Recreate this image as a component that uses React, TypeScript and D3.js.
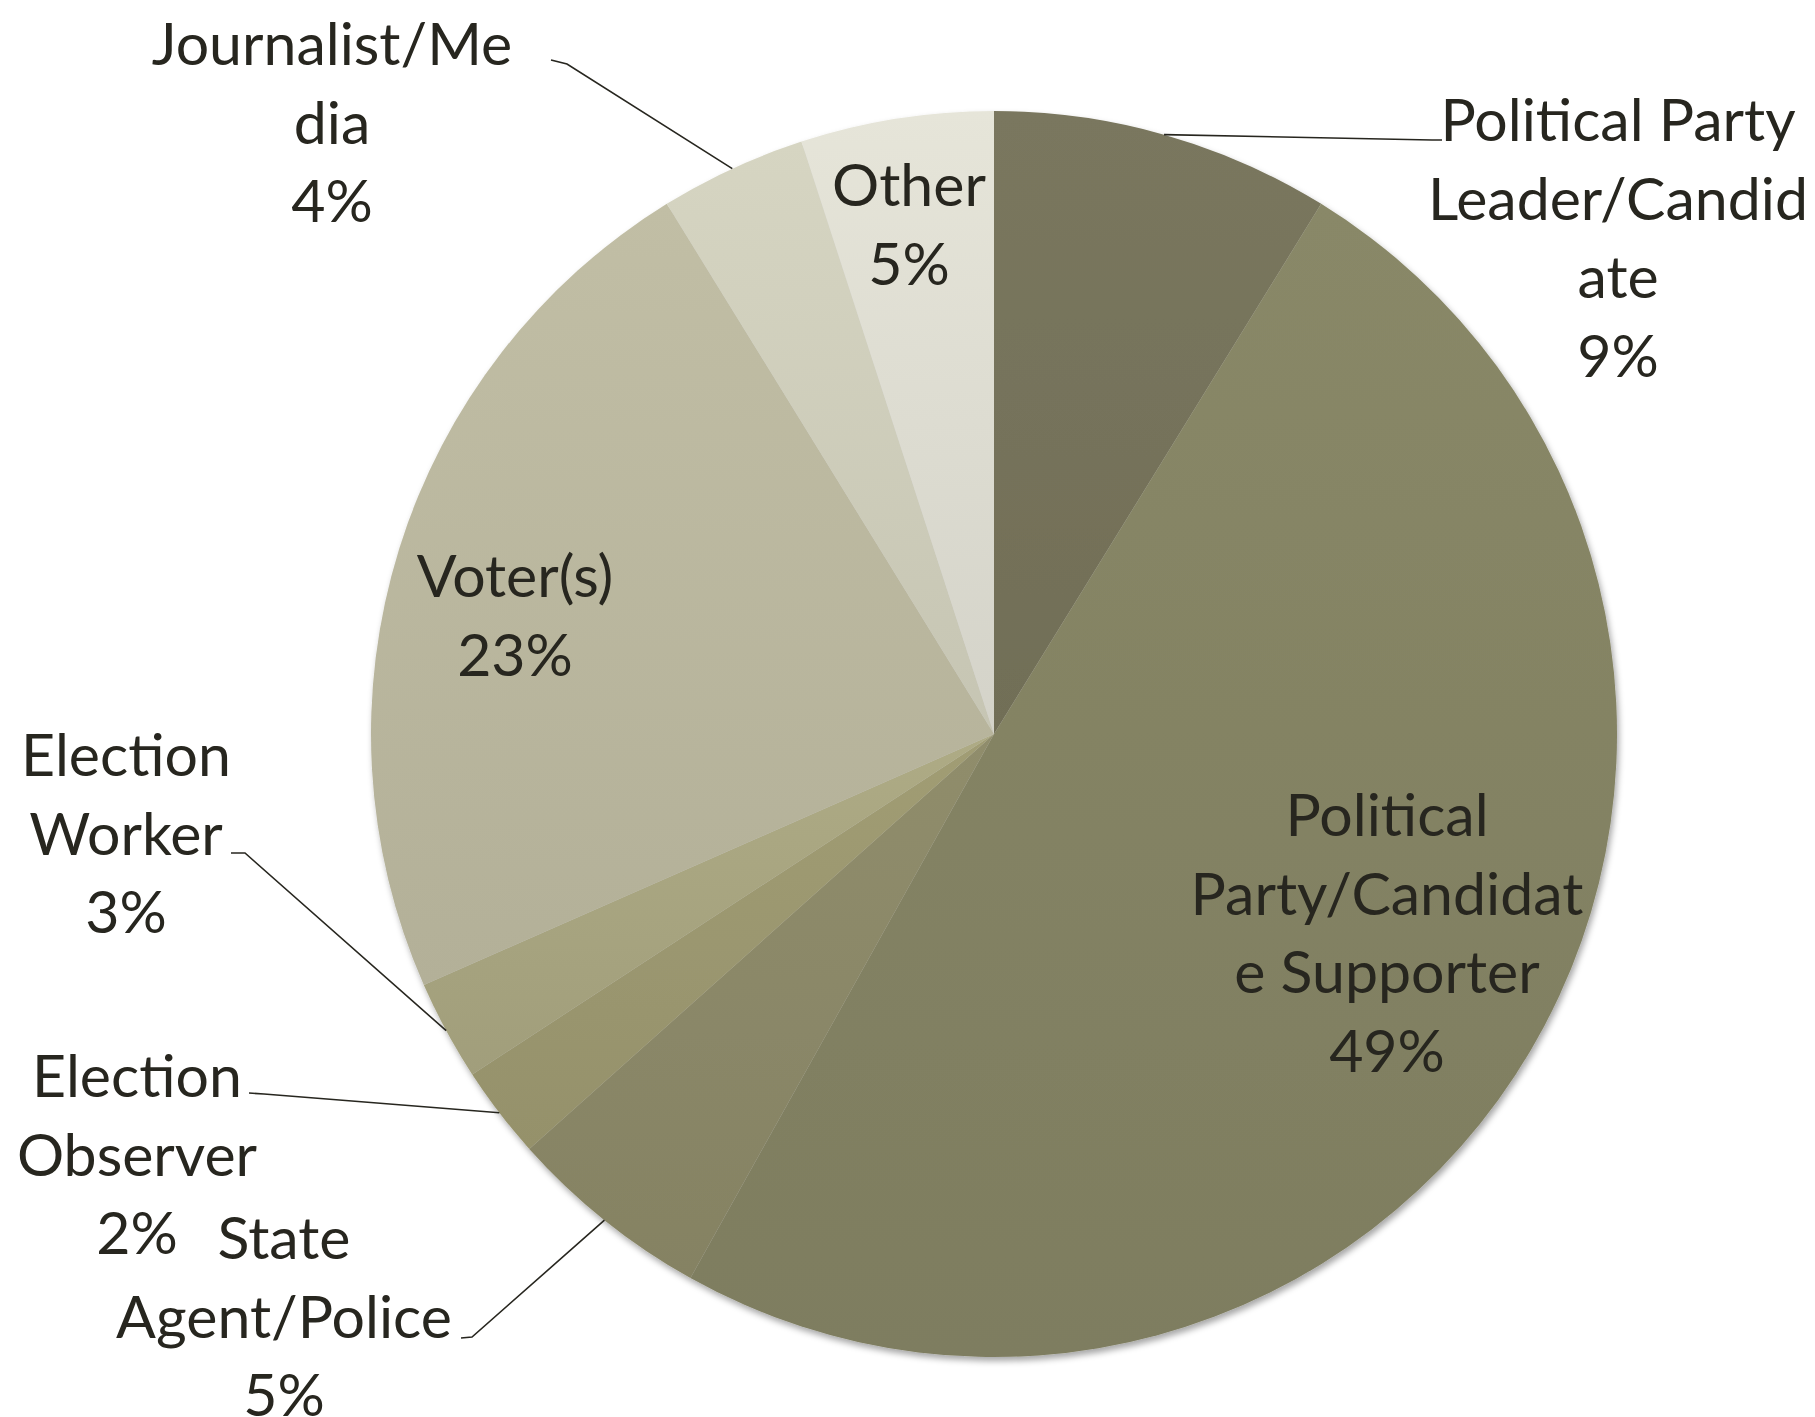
import React from 'react';
import * as d3 from 'd3';

// slices, clockwise from 12 o'clock
const categories = [
    'Political Party Leader/Candidate',
    'Political Party/Candidate Supporter',
    'State Agent/Police',
    'Election Observer',
    'Election Worker',
    'Voter(s)',
    'Journalist/Media',
    'Other',
];
const shares = [8.8, 49.3, 5.3, 2.4, 2.6, 22.8, 3.8, 5.0];
const percentLabels = ['9%', '49%', '5%', '2%', '3%', '23%', '4%', '5%'];
// label text as wrapped in the original
const labelLines = [
    ['Political Party', 'Leader/Candid', 'ate'],
    ['Political', 'Party/Candidat', 'e Supporter'],
    ['State', 'Agent/Police'],
    ['Election', 'Observer'],
    ['Election', 'Worker'],
    ['Voter(s)'],
    ['Journalist/Me', 'dia'],
    ['Other'],
];
const sliceColors = ['#75725a', '#838263', '#8a8767', '#9a966f', '#a7a47f', '#b9b69e', '#cdccba', '#dcdbd0'];

// label placement (text centre x, first baseline y) and leader line elbow
const labelLayout: { x: number; y: number; elbow?: [number, number][] }[] = [
    { x: 1618, y: 141, elbow: [[1432, 140], [1442, 140]] },
    { x: 1387, y: 836 },
    { x: 284, y: 1259, elbow: [[472, 1337], [461, 1338]] },
    { x: 137, y: 1097, elbow: [[264, 1094], [249, 1093]] },
    { x: 126, y: 776, elbow: [[245, 853], [231, 853]] },
    { x: 515, y: 597 },
    { x: 332, y: 65, elbow: [[567, 64], [551, 60]] },
    { x: 909, y: 206 },
];

const width = 1815;
const height = 1417;
const cx = 994;
const cy = 734;
const radius = 623;
const lineHeight = 78.5;
const textColor = '#27261f';

export default function App() {
    const pie = d3.pie<number>().sort(null).value((d) => d);
    const arcs = pie(shares);
    const arc = d3.arc<d3.PieArcDatum<number>>().innerRadius(0).outerRadius(radius);

    return (
        <div style={{ position: 'absolute', left: 0, top: 0 }}>
            <svg width={width} height={height} style={{ display: 'block', background: '#ffffff' }}>
                <defs>
                    <filter id="shadow" x="-10%" y="-10%" width="120%" height="120%">
                        <feDropShadow dx="2" dy="4" stdDeviation="3" floodColor="#000" floodOpacity="0.35" />
                    </filter>
                    {sliceColors.map((c, i) => (
                        <linearGradient key={i} id={`g${i}`} x1="0" y1="0" x2="0" y2="1">
                            <stop offset="0%" stopColor={d3.color(c)!.brighter(0.12).formatHex()} />
                            <stop offset="100%" stopColor={d3.color(c)!.darker(0.1).formatHex()} />
                        </linearGradient>
                    ))}
                </defs>
                <g transform={`translate(${cx},${cy})`} filter="url(#shadow)">
                    {arcs.map((a, i) => (
                        <path key={categories[i]} d={arc(a) ?? ''} fill={`url(#g${i})`} />
                    ))}
                </g>
                {/* leader lines from the slice's mid-angle on the rim */}
                {arcs.map((a, i) => {
                    const lay = labelLayout[i];
                    if (!lay.elbow) return null;
                    const mid = (a.startAngle + a.endAngle) / 2;
                    const start: [number, number] = [cx + radius * Math.sin(mid), cy - radius * Math.cos(mid)];
                    const pts = [start, ...lay.elbow];
                    return (
                        <path
                            key={`l${i}`}
                            d={d3.line()(pts) ?? ''}
                            fill="none"
                            stroke={textColor}
                            strokeWidth={1.6}
                        />
                    );
                })}
                {labelLayout.map((lay, i) => {
                    const lines = [...labelLines[i], percentLabels[i]];
                    return (
                        <text
                            key={`t${i}`}
                            x={lay.x}
                            y={lay.y}
                            textAnchor="middle"
                            fontFamily="Lato, 'Open Sans', sans-serif"
                            fontSize={59}
                            fill={textColor}
                        >
                            {lines.map((s, j) => (
                                <tspan key={j} x={lay.x} y={lay.y + j * lineHeight}>
                                    {s}
                                </tspan>
                            ))}
                        </text>
                    );
                })}
            </svg>
        </div>
    );
}
